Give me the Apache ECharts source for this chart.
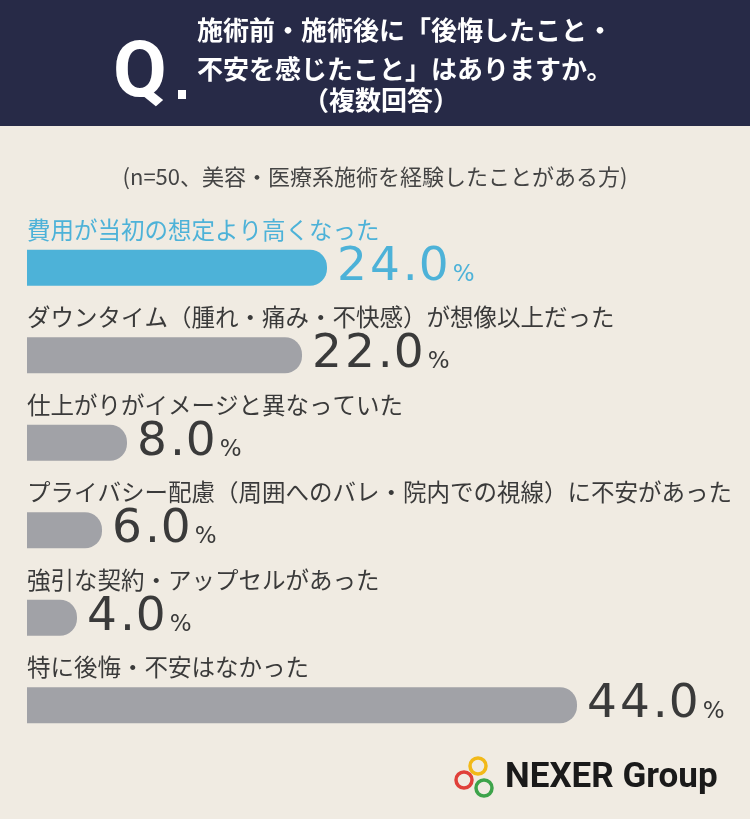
<!DOCTYPE html>
<html>
<head>
<meta charset="utf-8">
<script src="https://cdn.jsdelivr.net/npm/echarts@6/dist/echarts.min.js"></script>
<style>
html,body{margin:0;padding:0;background:#f0ebe2;}
#c{width:750px;height:819px;}
</style>
</head>
<body>
<div id="c"></div>
<script>
const categories = [
  '費用が当初の想定より高くなった',
  'ダウンタイム（腫れ・痛み・不快感）が想像以上だった',
  '仕上がりがイメージと異なっていた',
  'プライバシー配慮（周囲へのバレ・院内での視線）に不安があった',
  '強引な契約・アップセルがあった',
  '特に後悔・不安はなかった'
];
const values = [24.0, 22.0, 8.0, 6.0, 4.0, 44.0];
const titleLines = ['施術前・施術後に「後悔したこと・', '不安を感じたこと」はありますか。', '（複数回答）'];
const subtitle = '(n=50、美容・医療系施術を経験したことがある方)';

const NAVY = '#272a47', BLUE = '#4db2d8', GREY = '#a1a2a7', DARK = '#3a3a3a';
const JP = '"Noto Sans CJK JP", sans-serif';
const NUMF = '"DejaVu Sans", sans-serif';

const chart = echarts.init(document.getElementById('c'), null, {renderer: 'canvas'});
chart.setOption({
  backgroundColor: '#f0ebe2',
  animation: false,
  grid: {left: 27, right: 98, top: 224, bottom: 70, containLabel: false},
  xAxis: {type: 'value', min: 0, max: 50, show: false},
  yAxis: {
    type: 'category', inverse: true, data: categories,
    axisLine: {show: false}, axisTick: {show: false}, splitLine: {show: false},
    axisLabel: {
      inside: true, margin: 0, align: 'left', verticalAlign: 'middle',
      formatter: (v, i) => '{' + (i === 0 ? 'a' : 'b') + '|' + v + '}\n{s| }',
      rich: {
        a: {fontSize: 23.5, fontFamily: JP, color: BLUE, lineHeight: 24, align: 'left'},
        b: {fontSize: 23.5, fontFamily: JP, color: DARK, lineHeight: 24, align: 'left'},
        s: {fontSize: 10, lineHeight: 76}
      }
    }
  },
  series: [{
    type: 'bar', barWidth: 36, data: values.map((v, i) => {
      const c = i === 0 ? BLUE : DARK;
      return {
        value: v,
        itemStyle: {color: i === 0 ? BLUE : GREY},
        label: {rich: {n: {color: c}, d: {color: c}, p: {color: c}}}
      };
    }),
    itemStyle: {borderRadius: [0, 17, 17, 0]},
    label: {
      show: true, position: 'right', distance: 10,
      formatter: p => p.value.toFixed(1).split('').map(ch => ch === '.' ? '{d|.}' : '{n|' + ch + '}').join('') + '{p|%}',
      rich: {
        n: {fontSize: 47, fontFamily: NUMF, lineHeight: 47, padding: [10, 3, 0, 0], verticalAlign: 'bottom'},
        d: {fontSize: 47, fontFamily: NUMF, lineHeight: 47, padding: [10, 1, 0, 0], verticalAlign: 'bottom'},
        p: {fontSize: 23, fontFamily: NUMF, lineHeight: 23, padding: [0, 0, 5, 1], verticalAlign: 'bottom'}
      }
    }
  }],
  graphic: [
    {type: 'rect', left: 0, top: 0, shape: {width: 750, height: 126}, style: {fill: NAVY}, z: 0},
    {type: 'text', left: 113, top: 37, style: {text: 'Q', fill: '#fff', font: 'bold 78px Roboto'}},
    {type: 'rect', shape: {x: 178, y: 90, width: 8, height: 9}, style: {fill: '#fff'}},
    {type: 'text', left: 197, top: 17, style: {text: titleLines[0], fill: '#fff', font: 'bold 26px ' + JP}},
    {type: 'text', left: 197, top: 56, style: {text: titleLines[1], fill: '#fff', font: 'bold 26px ' + JP}},
    {type: 'text', left: 303, top: 87, style: {text: titleLines[2], fill: '#fff', font: 'bold 26px ' + JP}},
    {type: 'text', left: 'center', top: 166, style: {text: subtitle, fill: '#444', font: '22px ' + JP}},
    {type: 'circle', shape: {cx: 478, cy: 766, r: 8}, style: {fill: 'none', stroke: '#f2b918', lineWidth: 3.5}},
    {type: 'circle', shape: {cx: 464, cy: 780, r: 8}, style: {fill: 'none', stroke: '#e0403a', lineWidth: 3.5}},
    {type: 'circle', shape: {cx: 484, cy: 788, r: 8}, style: {fill: 'none', stroke: '#3da34a', lineWidth: 3.5}},
    {type: 'text', left: 505, top: 761, style: {text: 'NEXER Group', fill: '#1a1a1a', font: 'bold 35px Roboto'}}
  ]
});
</script>
</body>
</html>
